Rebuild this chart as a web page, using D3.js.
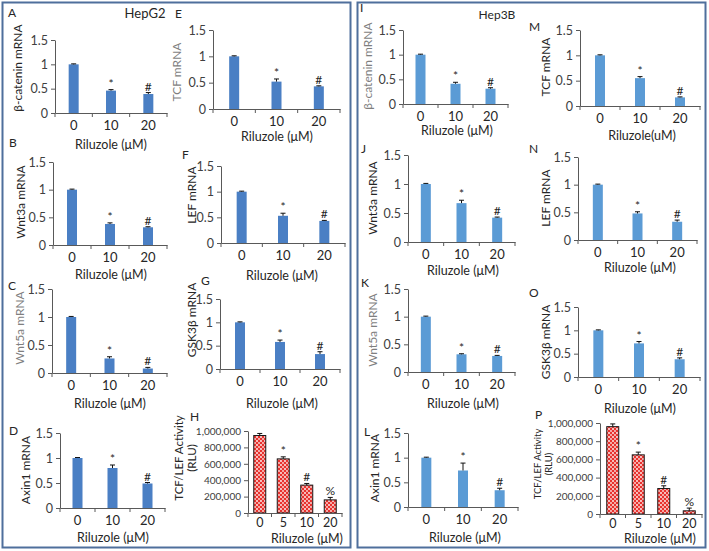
<!DOCTYPE html>
<html>
<head>
<meta charset="utf-8">
<script src="https://cdn.jsdelivr.net/npm/d3@7"></script>
<style>
  body { margin: 0; background: #fff; }
  text { font-family: Lato, "Open Sans", sans-serif; }
</style>
</head>
<body>
<script>
// doses
var doses = ["0", "10", "20"];
var dosesLuc = ["0", "5", "10", "20"];
var mrnaTicks = [0, 0.5, 1, 1.5];
var lucTicks = [0, 200000, 400000, 600000, 800000, 1000000];
var marks = ["", "*", "#", "%"];

// HepG2 values (mean, upper error)
var betaCatG2 = [1, 0.46, 0.39],  betaCatG2Err = [0.01, 0.02, 0.03];
var wnt3aG2 = [1, 0.38, 0.32],    wnt3aG2Err = [0.01, 0.02, 0.01];
var wnt5aG2 = [1, 0.26, 0.08],    wnt5aG2Err = [0.01, 0.03, 0.02];
var axin1G2 = [1, 0.80, 0.49],    axin1G2Err = [0.01, 0.06, 0.02];
var tcfG2 = [1, 0.52, 0.43],      tcfG2Err = [0.01, 0.05, 0.01];
var lefG2 = [1, 0.53, 0.43],      lefG2Err = [0.01, 0.05, 0.01];
var gsk3bG2 = [1, 0.58, 0.32],    gsk3bG2Err = [0.01, 0.04, 0.05];
var lucG2 = [945000, 660000, 340000, 160000], lucG2Err = [25000, 25000, 20000, 30000];

// Hep3B values
var betaCat3B = [1, 0.41, 0.31],  betaCat3BErr = [0.01, 0.03, 0.02];
var wnt3a3B = [1, 0.67, 0.42],    wnt3a3BErr = [0.01, 0.05, 0.01];
var wnt5a3B = [1, 0.32, 0.29],    wnt5a3BErr = [0.01, 0.01, 0.01];
var axin13B = [1, 0.74, 0.34],    axin13BErr = [0.01, 0.15, 0.04];
var tcf3B = [1, 0.55, 0.17],      tcf3BErr = [0.01, 0.03, 0.01];
var lef3B = [1, 0.48, 0.33],      lef3BErr = [0.01, 0.03, 0.03];
var gsk3b3B = [1, 0.72, 0.38],    gsk3b3BErr = [0.01, 0.04, 0.03];
var luc3B = [960000, 650000, 280000, 35000], luc3BErr = [30000, 30000, 30000, 30000];

var blueG2 = "#4a7fc4";
var blue3B = "#5b9bd5";
var dark = "#262626";
var gray = "#7f7f7f";

// layout of every small panel
var panels = [
  {id: "A", lx: 8, ly: 17, x0: 55, x1: 167, yTop: 40, yBot: 113, lab: "β-catenin mRNA", labX: 18, labY: 68, labC: dark, xl: 145, xlx: 111, v: betaCatG2, e: betaCatG2Err, col: blueG2},
  {id: "E", lx: 175, ly: 18, x0: 213, x1: 340, yTop: 30, yBot: 109, lab: "TCF mRNA", labX: 177, labY: 72, labC: gray, xl: 137, xlx: 277, v: tcfG2, e: tcfG2Err, col: blueG2},
  {id: "B", lx: 9, ly: 147, x0: 53, x1: 167, yTop: 162, yBot: 245, lab: "Wnt3a mRNA", labX: 21, labY: 202, labC: dark, xl: 275, xlx: 111, v: wnt3aG2, e: wnt3aG2Err, col: blueG2},
  {id: "F", lx: 182, ly: 159, x0: 221, x1: 345, yTop: 166, yBot: 243, lab: "LEF mRNA", labX: 192, labY: 195, labC: dark, xl: 276, xlx: 282, v: lefG2, e: lefG2Err, col: blueG2},
  {id: "C", lx: 8, ly: 290, x0: 52, x1: 167, yTop: 289, yBot: 373, lab: "Wnt5a mRNA", labX: 20, labY: 328, labC: gray, xl: 404, xlx: 110, v: wnt5aG2, e: wnt5aG2Err, col: blueG2},
  {id: "G", lx: 201, ly: 285, x0: 220, x1: 340, yTop: 299, yBot: 369, lab: "GSK3β  mRNA", labX: 192, labY: 320, labC: dark, xl: 404, xlx: 282, v: gsk3bG2, e: gsk3bG2Err, col: blueG2},
  {id: "D", lx: 9, ly: 435, x0: 60, x1: 165, yTop: 433, yBot: 508, lab: "Axin1 mRNA", labX: 26, labY: 470, labC: dark, xl: 538, xlx: 113, v: axin1G2, e: axin1G2Err, col: blueG2},
  {id: "H", lx: 190, ly: 421, x0: 248, x1: 342, yTop: 431, yBot: 513, lab: "TCF/LEF Activity", lab2: "(RLU)", labX: 179, labY: 458, labF: 11.5, labC: dark, xl: 539, xlx: 307, v: lucG2, e: lucG2Err, luc: true},

  {id: "I", lx: 360, ly: 12, x0: 403, x1: 508, yTop: 30, yBot: 104, lab: "β-catenin mRNA", labX: 368, labY: 66, labC: gray, xl: 131, xlx: 457, v: betaCat3B, e: betaCat3BErr, col: blue3B},
  {id: "M", lx: 529, ly: 31, x0: 580, x1: 700, yTop: 30, yBot: 106, lab: "TCF mRNA", labX: 546, labY: 67, labC: dark, xl: 136, xlx: 642, v: tcf3B, e: tcf3BErr, col: blue3B, xlab: "Riluzole(uM)"},
  {id: "J", lx: 361, ly: 153, x0: 408, x1: 515, yTop: 155, yBot: 242, lab: "Wnt3a mRNA", labX: 373, labY: 198, labC: dark, xl: 271, xlx: 463, v: wnt3a3B, e: wnt3a3BErr, col: blue3B},
  {id: "N", lx: 529, ly: 153, x0: 578, x1: 697, yTop: 157, yBot: 240, lab: "LEF mRNA", labX: 546, labY: 198, labC: dark, xl: 268, xlx: 640, v: lef3B, e: lef3BErr, col: blue3B},
  {id: "K", lx: 361, ly: 287, x0: 408, x1: 515, yTop: 289, yBot: 372, lab: "Wnt5a mRNA", labX: 373, labY: 330, labC: gray, xl: 404, xlx: 463, v: wnt5a3B, e: wnt5a3BErr, col: blue3B},
  {id: "O", lx: 529, ly: 297, x0: 578, x1: 700, yTop: 307, yBot: 377, lab: "GSK3β mRNA", labX: 546, labY: 342, labC: dark, xl: 409, xlx: 640, v: gsk3b3B, e: gsk3b3BErr, col: blue3B},
  {id: "L", lx: 364, ly: 436, x0: 408, x1: 518, yTop: 433, yBot: 507, lab: "Axin1 mRNA", labX: 375, labY: 468, labC: dark, xl: 538, xlx: 465, v: axin13B, e: axin13BErr, col: blue3B},
  {id: "P", lx: 535, ly: 419, x0: 600, x1: 702, yTop: 423, yBot: 514, lab: "TCF/LEF Activity", lab2: "(RLU)", labX: 538, labY: 464, labF: 9.5, labC: dark, xl: 539, xlx: 660, v: luc3B, e: luc3BErr, luc: true}
];

var svg = d3.select("body").append("svg")
  .attr("width", 709)
  .attr("height", 551);

// red dotted fill for the luciferase bars
var pat = svg.append("defs").append("pattern")
  .attr("id", "dots")
  .attr("patternUnits", "userSpaceOnUse")
  .attr("width", 4).attr("height", 4);
pat.append("rect").attr("width", 4).attr("height", 4).attr("fill", "#e8322e");
pat.append("circle").attr("cx", 1).attr("cy", 1).attr("r", 0.9).attr("fill", "#fff");
pat.append("circle").attr("cx", 3).attr("cy", 3).attr("r", 0.9).attr("fill", "#fbe0de");

// outer boxes
svg.append("rect").attr("x", 2.5).attr("y", 2.5).attr("width", 348).attr("height", 545)
  .attr("fill", "none").attr("stroke", "#4f6f9c").attr("stroke-width", 2);
svg.append("rect").attr("x", 357.5).attr("y", 2.5).attr("width", 348).attr("height", 545)
  .attr("fill", "none").attr("stroke", "#4f6f9c").attr("stroke-width", 2);

svg.append("text").attr("x", 145).attr("y", 18).attr("text-anchor", "middle")
  .attr("font-size", 13).attr("fill", dark).text("HepG2");
svg.append("text").attr("x", 497).attr("y", 19).attr("text-anchor", "middle")
  .attr("font-size", 12).attr("fill", dark).text("Hep3B");

panels.forEach(function(p) {
  var g = svg.append("g");
  var cats = p.luc ? dosesLuc : doses;

  var x = d3.scaleBand().domain(cats).range([p.x0, p.x1]).padding(0);
  var y = d3.scaleLinear()
    .domain(p.luc ? [0, 1000000] : [0, 1.5])
    .range([p.yBot, p.yTop]);
  var bw = p.luc ? 12 : 10;

  // panel letter
  g.append("text").attr("x", p.lx).attr("y", p.ly)
    .attr("font-size", 12).attr("fill", dark).text(p.id);

  // y axis
  var yAxis = d3.axisLeft(y)
    .tickValues(p.luc ? lucTicks : mrnaTicks)
    .tickFormat(p.luc ? d3.format(",") : d3.format("~g"))
    .tickSize(4).tickSizeOuter(0);
  var ya = g.append("g").attr("transform", "translate(" + p.x0 + ",0)").call(yAxis);
  ya.select(".domain").attr("stroke", "#595959");
  ya.selectAll(".tick line").attr("stroke", "#595959");
  ya.selectAll(".tick text").attr("fill", "#404040")
    .attr("font-size", p.luc ? 10 : 12.5).attr("font-family", "Lato, sans-serif");

  // bars
  g.selectAll("rect.bar").data(p.v).enter().append("rect")
    .attr("class", "bar")
    .attr("x", function(d, i) { return x(cats[i]) + x.step() / 2 - bw / 2; })
    .attr("y", function(d) { return y(d); })
    .attr("width", bw)
    .attr("height", function(d) { return p.yBot - y(d); })
    .attr("fill", p.luc ? "url(#dots)" : p.col)
    .attr("stroke", p.luc ? "#1a1a1a" : "none")
    .attr("stroke-width", 1);

  // error bars
  g.selectAll("path.err").data(p.v).enter().append("path")
    .attr("class", "err")
    .attr("d", function(d, i) {
      var cx = x(cats[i]) + x.step() / 2;
      var yt = y(d + p.e[i]);
      return "M" + cx + "," + y(d) + "V" + yt + "M" + (cx - 2.5) + "," + yt + "H" + (cx + 2.5);
    })
    .attr("stroke", "#111").attr("stroke-width", 1).attr("fill", "none");

  // significance marks
  g.selectAll("text.sig").data(p.v).enter().append("text")
    .attr("class", "sig")
    .attr("x", function(d, i) { return x(cats[i]) + x.step() / 2; })
    .attr("y", function(d, i) { return y(d + p.e[i]) - 2; })
    .attr("text-anchor", "middle")
    .attr("font-size", 12).attr("fill", dark)
    .text(function(d, i) { return marks[i]; });

  // x axis: labels in the bands, ticks at the band edges
  var xa = g.append("g").attr("transform", "translate(0," + p.yBot + ")")
    .call(d3.axisBottom(x).tickSize(0).tickPadding(p.luc ? 5 : 8));
  xa.select(".domain").attr("stroke", "#595959");
  xa.selectAll(".tick text").attr("fill", dark).attr("font-size", p.luc ? 12.5 : 13)
    .attr("font-family", "Lato, sans-serif");
  g.selectAll("line.xt").data(d3.range(cats.length + 1)).enter().append("line")
    .attr("class", "xt")
    .attr("x1", function(i) { return p.x0 + i * x.step(); })
    .attr("x2", function(i) { return p.x0 + i * x.step(); })
    .attr("y1", p.yBot).attr("y2", p.yBot + 4)
    .attr("stroke", "#595959");

  // x title
  g.append("text").attr("x", p.xlx).attr("y", p.xl + 4)
    .attr("text-anchor", "middle").attr("font-size", 12.5).attr("fill", dark)
    .text(p.xlab || "Riluzole (μM)");

  // y title
  var fs = p.labF || 12;
  g.append("text")
    .attr("transform", "translate(" + p.labX + "," + p.labY + ") rotate(-90)")
    .attr("text-anchor", "middle").attr("font-size", fs).attr("fill", p.labC)
    .attr("dy", "0.35em").text(p.lab);
  if (p.lab2) {
    g.append("text")
      .attr("transform", "translate(" + (p.labX + fs + 1) + "," + p.labY + ") rotate(-90)")
      .attr("text-anchor", "middle").attr("font-size", fs).attr("fill", p.labC)
      .attr("dy", "0.35em").text(p.lab2);
  }
});
</script>
</body>
</html>
